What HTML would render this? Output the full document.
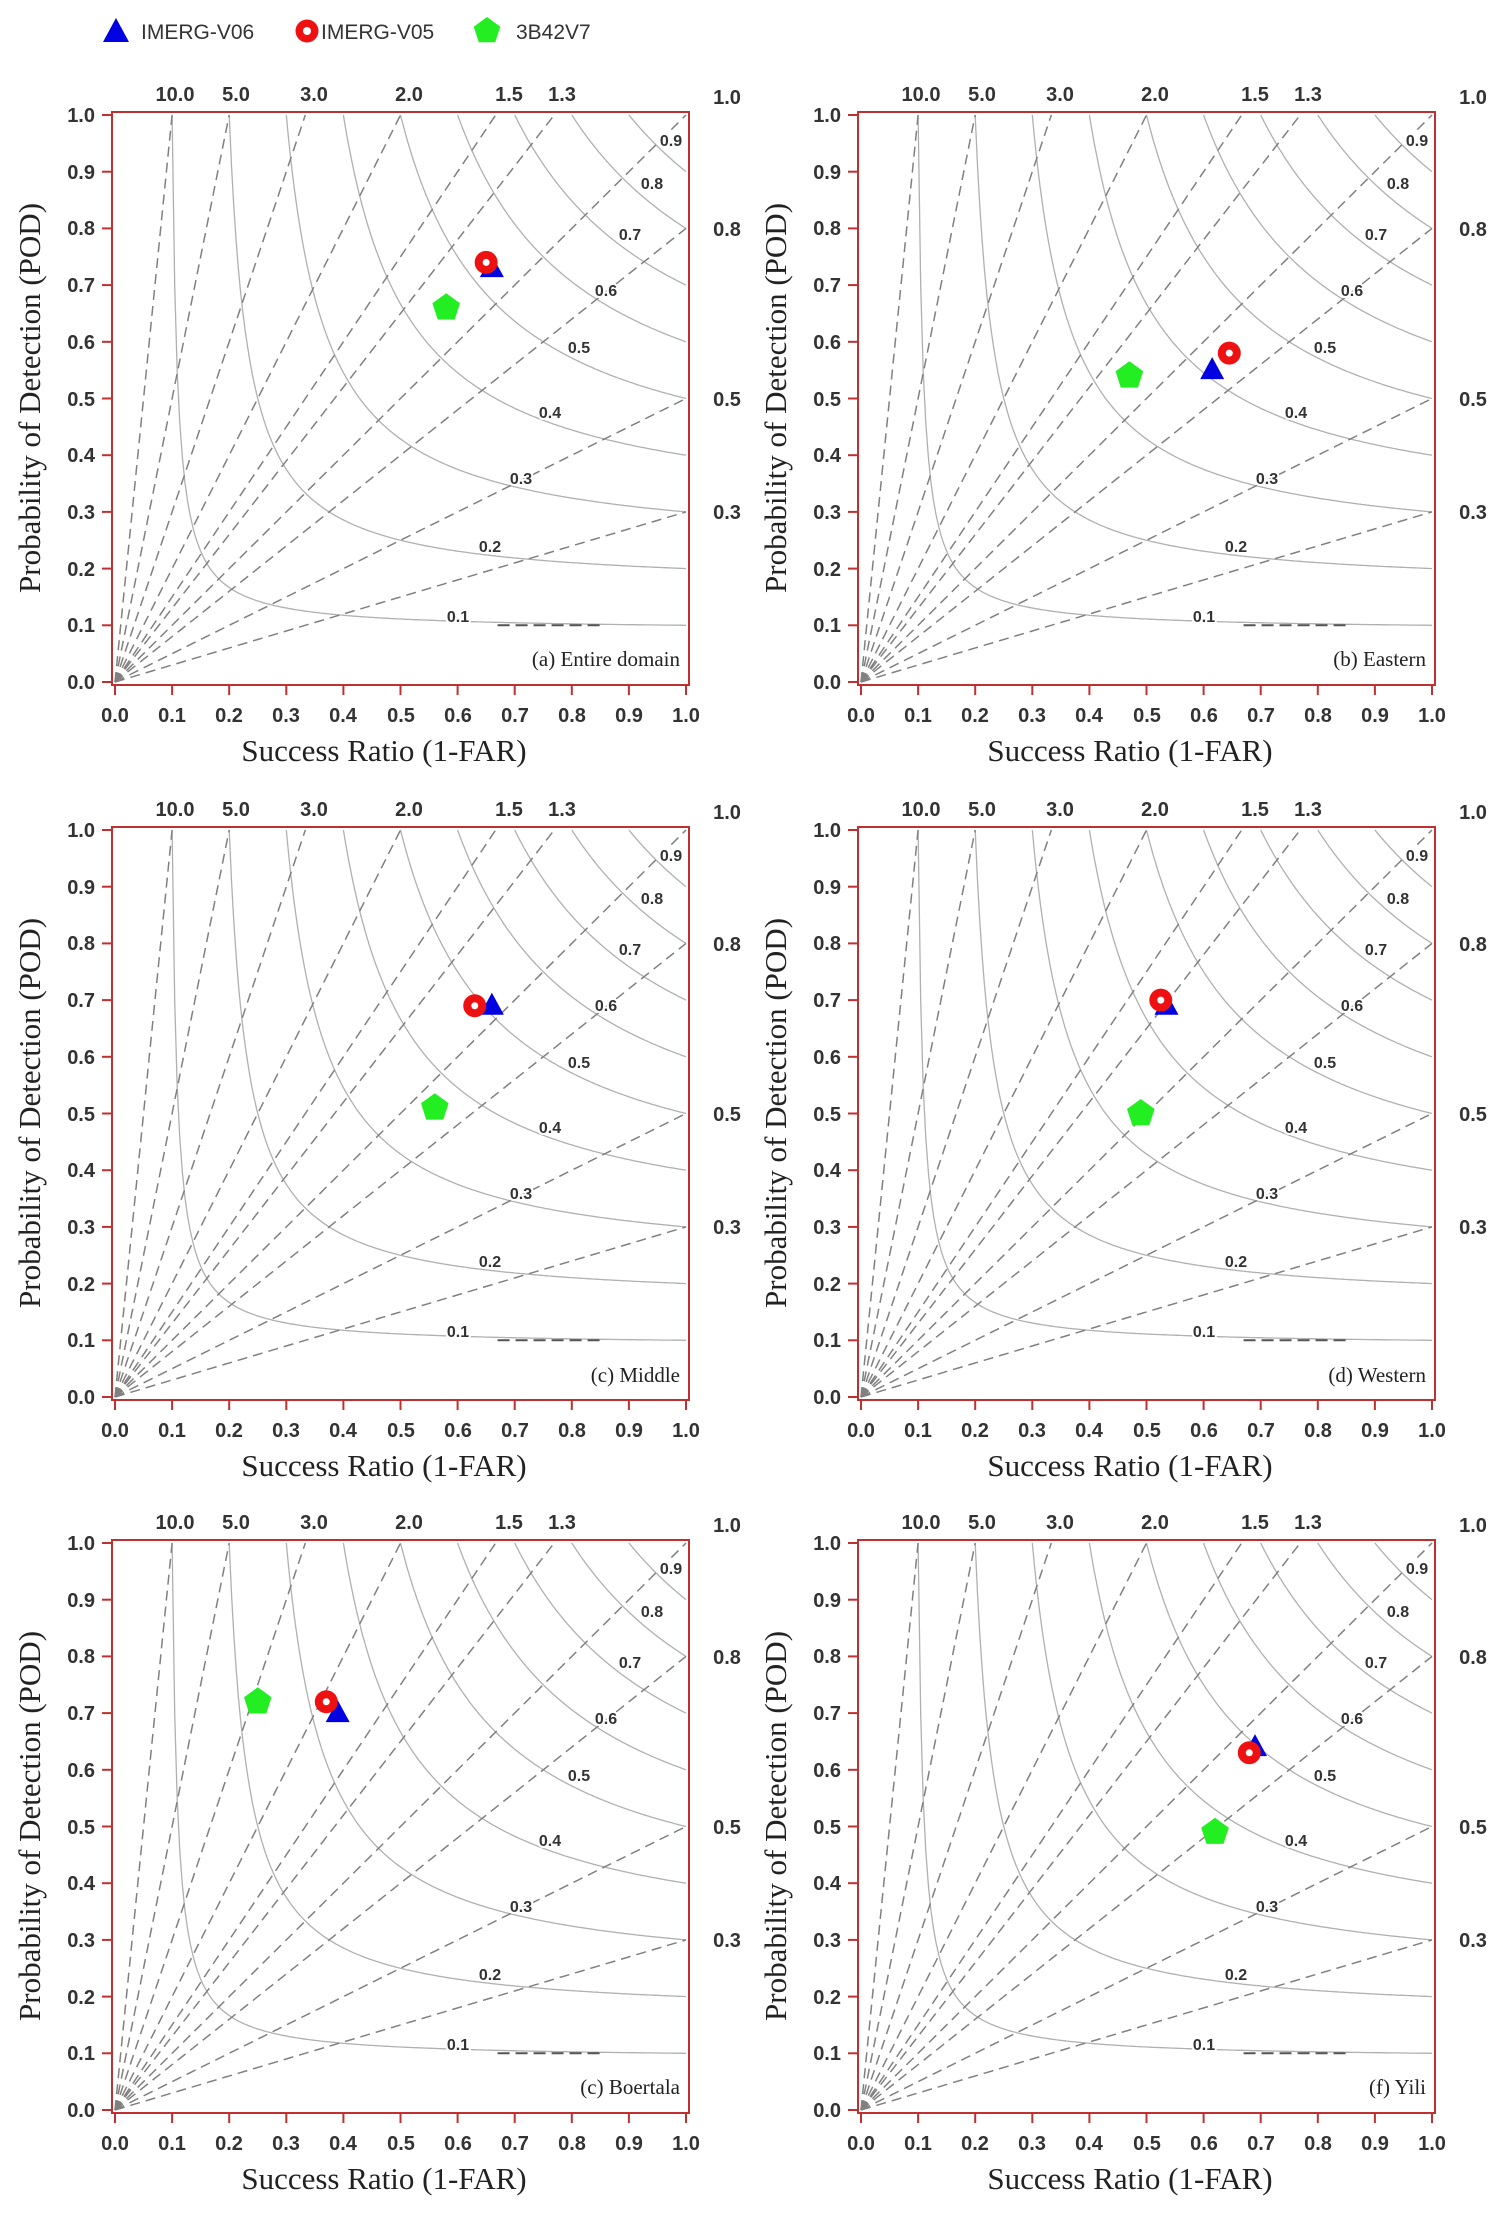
<!DOCTYPE html>
<html><head><meta charset="utf-8"><style>
html,body{margin:0;padding:0;background:#fff}
svg{display:block}
.tk{font-family:"Liberation Sans",Arial,sans-serif;font-size:20px;font-weight:bold;fill:#333}
.cs{font-family:"Liberation Sans",Arial,sans-serif;font-size:16px;font-weight:bold;fill:#333;paint-order:stroke;stroke:#fff;stroke-width:4px}
.ser{font-family:"Liberation Serif","Times New Roman",serif;fill:#222}
.lg{font-family:"Liberation Sans",Arial,sans-serif;font-size:21px;fill:#333}
</style></head><body>
<svg id="s" width="1505" height="2213" viewBox="0 0 1505 2213" xmlns="http://www.w3.org/2000/svg">
<defs>
<g id="base">
 <g id="curves"></g>
 <rect x="-3" y="-3" width="577" height="573" fill="none" stroke="#c03030" stroke-width="2"/>
 <g id="ticks" stroke="#c03030" stroke-width="2"></g>
 <g class="tk" text-anchor="end">
  <text x="-20" y="7">1.0</text><text x="-20" y="64">0.9</text><text x="-20" y="120">0.8</text>
  <text x="-20" y="177">0.7</text><text x="-20" y="234">0.6</text><text x="-20" y="291">0.5</text>
  <text x="-20" y="347">0.4</text><text x="-20" y="404">0.3</text><text x="-20" y="461">0.2</text>
  <text x="-20" y="517">0.1</text><text x="-20" y="574">0.0</text>
 </g>
 <g class="tk" text-anchor="middle">
  <text x="0" y="607">0.0</text><text x="57" y="607">0.1</text><text x="114" y="607">0.2</text>
  <text x="171" y="607">0.3</text><text x="228" y="607">0.4</text><text x="286" y="607">0.5</text>
  <text x="343" y="607">0.6</text><text x="400" y="607">0.7</text><text x="457" y="607">0.8</text>
  <text x="514" y="607">0.9</text><text x="571" y="607">1.0</text>
  <text x="60" y="-14">10.0</text><text x="121" y="-14">5.0</text><text x="199" y="-14">3.0</text>
  <text x="294" y="-14">2.0</text><text x="394" y="-14">1.5</text><text x="447" y="-14">1.3</text>
  <text x="612" y="-11">1.0</text><text x="612" y="121">0.8</text><text x="612" y="291">0.5</text><text x="612" y="404">0.3</text>
 </g>
 <g class="cs" text-anchor="middle">
  <text x="556" y="31">0.9</text><text x="537" y="74">0.8</text><text x="515" y="125">0.7</text>
  <text x="491" y="181">0.6</text><text x="464" y="238">0.5</text><text x="435" y="303">0.4</text>
  <text x="406" y="369">0.3</text><text x="375" y="437">0.2</text><text x="343" y="507">0.1</text>
 </g>
 <text class="ser" font-size="31" text-anchor="middle" x="269" y="646">Success Ratio (1-FAR)</text>
 <text class="ser" font-size="31" text-anchor="middle" transform="translate(-75,283) rotate(-90)">Probability of Detection (POD)</text>
</g>
</defs>
<g id="panels"></g>
<polygon points="116,18 129,42 103,42" fill="#0000e0"/>
<text class="lg" x="141" y="39">IMERG-V06</text>
<circle cx="307" cy="31" r="11.5" fill="#ee1111"/><circle cx="307" cy="31" r="4" fill="#fff"/>
<text class="lg" x="321" y="39">IMERG-V05</text>
<polygon id="lp" fill="#22ee22"/>
<text class="lg" x="516" y="39">3B42V7</text>
<g class="ser" font-size="21" text-anchor="end">
 <text x="680" y="666">(a) Entire domain</text>
 <text x="1426" y="666">(b) Eastern</text>
 <text x="680" y="1382">(c) Middle</text>
 <text x="1426" y="1382">(d) Western</text>
 <text x="680" y="2094">(c) Boertala</text>
 <text x="1426" y="2094">(f) Yili</text>
</g>
<g id="marks"></g>
</svg>
<script>
var NS="http://www.w3.org/2000/svg",W=571,H=567;
function el(t,a,p){var e=document.createElementNS(NS,t);for(var k in a)e.setAttribute(k,a[k]);p.appendChild(e);return e;}
var cv=document.getElementById('curves');
[0.1,0.2,0.3,0.4,0.5,0.6,0.7,0.8,0.9].forEach(function(c){
 var pts=[];for(var i=0;i<=200;i++){var sr=c+(1-c)*i/200;var pod=1/(1/c+1-1/sr);pts.push((sr*W).toFixed(1)+","+((1-pod)*H).toFixed(1));}
 el('polyline',{points:pts.join(' '),fill:'none',stroke:'#b0b0b0','stroke-width':1.3},cv);
});
el('line',{x1:0.67*W,y1:0.9*H,x2:0.85*W,y2:0.9*H,stroke:'#555','stroke-width':2,'stroke-dasharray':'12,6'},cv);
[0.3,0.5,0.8,1.0,1.3,1.5,2,3,5,10].forEach(function(b){
 var sr=Math.min(1,1/b),pod=b*sr;
 el('line',{x1:0,y1:H,x2:sr*W,y2:(1-pod)*H,stroke:'#808080','stroke-width':1.5,'stroke-dasharray':'10,6'},cv);
});
var tk=document.getElementById('ticks');
for(var i=0;i<=10;i++){el('line',{x1:-13,y1:H-i*H/10,x2:-3,y2:H-i*H/10},tk);el('line',{x1:i*W/10,y1:H+3,x2:i*W/10,y2:H+13},tk);}
var offs=[[115,115],[861,115],[115,830],[861,830],[115,1543],[861,1543]];
var pg=document.getElementById('panels');
offs.forEach(function(o){el('use',{href:'#base',transform:'translate('+o[0]+','+o[1]+')'},pg);});
function pent(cx,cy,r){var p=[];for(var i=0;i<5;i++){var a=-Math.PI/2+i*2*Math.PI/5;p.push((cx+r*Math.cos(a)).toFixed(1)+","+(cy+r*Math.sin(a)).toFixed(1));}return p.join(' ');}
document.getElementById('lp').setAttribute('points',pent(487,31,14));
var data=[[[0.66,0.73],[0.65,0.74],[0.58,0.66]],[[0.615,0.55],[0.645,0.58],[0.47,0.54]],[[0.66,0.69],[0.63,0.69],[0.56,0.51]],[[0.535,0.69],[0.525,0.70],[0.49,0.50]],[[0.39,0.70],[0.37,0.72],[0.25,0.72]],[[0.69,0.64],[0.68,0.63],[0.62,0.49]]];
var mk=document.getElementById('marks');
data.forEach(function(d,i){var o=offs[i];
 function X(s){return o[0]+s*W;}function Y(p){return o[1]+(1-p)*H;}
 var x=X(d[0][0]),y=Y(d[0][1]);
 el('polygon',{points:x+','+(y-13)+' '+(x+12)+','+(y+9)+' '+(x-12)+','+(y+9),fill:'#0000e0'},mk);
 x=X(d[1][0]);y=Y(d[1][1]);
 el('circle',{cx:x,cy:y,r:11.5,fill:'#ee1111'},mk);el('circle',{cx:x,cy:y,r:3.5,fill:'#fff'},mk);
 el('polygon',{points:pent(X(d[2][0]),Y(d[2][1]),14.5),fill:'#22ee22'},mk);
});
</script>
</body></html>
